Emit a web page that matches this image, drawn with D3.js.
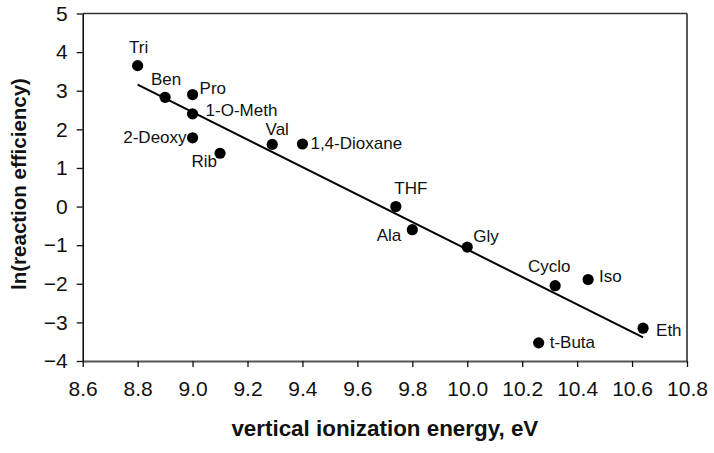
<!DOCTYPE html>
<html>
<head>
<meta charset="utf-8">
<script src="https://cdn.jsdelivr.net/npm/d3@7"></script>
<style>
  html, body { margin: 0; padding: 0; background: #fff; }
  svg { display: block; font-family: "Liberation Sans", Arial, Helvetica, sans-serif; }
</style>
</head>
<body>
<svg id="chart" width="714" height="453"></svg>
<script>
// ---- data ----
const compounds = ["Tri", "Ben", "Pro", "1-O-Meth", "2-Deoxy", "Rib", "Val", "1,4-Dioxane",
                   "THF", "Ala", "Gly", "Cyclo", "Iso", "Eth", "t-Buta"];
const ionizationEnergy = [8.80, 8.90, 9.00, 9.00, 9.00, 9.10, 9.29, 9.40,
                          9.74, 9.80, 10.00, 10.32, 10.44, 10.64, 10.26];
const lnEfficiency = [3.65, 2.83, 2.90, 2.40, 1.78, 1.38, 1.61, 1.62,
                      0.00, -0.60, -1.05, -2.05, -1.89, -3.15, -3.53];
const fitX = [8.80, 10.64];
const fitY = [3.16, -3.39];
const xTickValues = [8.6, 8.8, 9.0, 9.2, 9.4, 9.6, 9.8, 10.0, 10.2, 10.4, 10.6, 10.8];
const yTickValues = [-4, -3, -2, -1, 0, 1, 2, 3, 4, 5];
const xTitle = "vertical ionization energy, eV";
const yTitle = "ln(reaction efficiency)";

// ---- label layout (pixel offsets from each point) ----
const labelLayout = {
  "Tri":         {dx: 1,   dy: -13, anchor: "middle"},
  "Ben":         {dx: 1,   dy: -12, anchor: "middle"},
  "Pro":         {dx: 7,   dy: -1,  anchor: "start"},
  "1-O-Meth":    {dx: 13,  dy: 2,   anchor: "start"},
  "2-Deoxy":     {dx: -6,  dy: 5,   anchor: "end"},
  "Rib":         {dx: -3,  dy: 14,  anchor: "end"},
  "Val":         {dx: 5,   dy: -9.5, anchor: "middle"},
  "1,4-Dioxane": {dx: 8,   dy: 5,   anchor: "start"},
  "THF":         {dx: 15,  dy: -13, anchor: "middle"},
  "Ala":         {dx: -11, dy: 11,  anchor: "end"},
  "Gly":         {dx: 6,   dy: -5,  anchor: "start"},
  "Cyclo":       {dx: -6,  dy: -14, anchor: "middle"},
  "Iso":         {dx: 11,  dy: 2,   anchor: "start"},
  "Eth":         {dx: 13,  dy: 8,   anchor: "start"},
  "t-Buta":      {dx: 11,  dy: 5,   anchor: "start"}
};

const svg = d3.select("#chart");
const m = {left: 82.7, right: 687, top: 13.5, bottom: 361};

const x = d3.scaleLinear().domain([8.6, 10.8]).range([m.left, m.right]);
const y = d3.scaleLinear().domain([-4, 5]).range([m.bottom, m.top]);

// frame top/right
svg.append("line").attr("x1", m.left).attr("x2", m.right).attr("y1", m.top).attr("y2", m.top)
  .attr("stroke", "#333").attr("stroke-width", 1.5);
svg.append("line").attr("x1", m.right).attr("x2", m.right).attr("y1", m.top).attr("y2", m.bottom)
  .attr("stroke", "#222").attr("stroke-width", 1.5);

// x axis
const xAxis = d3.axisBottom(x).tickValues(xTickValues).tickFormat(d3.format(".1f"))
  .tickSizeInner(6).tickSizeOuter(0).tickPadding(14);
const gx = svg.append("g").attr("transform", `translate(0,${m.bottom})`).call(xAxis);
gx.select(".domain").attr("stroke", "#555").attr("stroke-width", 2);
gx.selectAll(".tick line").attr("stroke", "#111").attr("stroke-width", 1.3);
gx.selectAll(".tick text").attr("font-size", 21).attr("fill", "#111")
  .attr("font-family", "Liberation Sans, Arial, sans-serif");

// y axis
const yAxis = d3.axisLeft(y).tickValues(yTickValues).tickFormat(d3.format("d"))
  .tickSizeInner(6).tickSizeOuter(0).tickPadding(9);
const gy = svg.append("g").attr("transform", `translate(${m.left},0)`).call(yAxis);
gy.select(".domain").attr("stroke", "#000").attr("stroke-width", 1.5);
gy.selectAll(".tick line").attr("stroke", "#111").attr("stroke-width", 1.3);
gy.selectAll(".tick text").attr("font-size", 21).attr("fill", "#111")
  .attr("font-family", "Liberation Sans, Arial, sans-serif");

// regression line
svg.append("line")
  .attr("x1", x(fitX[0])).attr("y1", y(fitY[0]))
  .attr("x2", x(fitX[1])).attr("y2", y(fitY[1]))
  .attr("stroke", "#000").attr("stroke-width", 2);

// points
const pts = compounds.map((n, i) => ({name: n, xv: ionizationEnergy[i], yv: lnEfficiency[i]}));
svg.append("g").selectAll("circle").data(pts).join("circle")
  .attr("cx", d => x(d.xv)).attr("cy", d => y(d.yv)).attr("r", 5.6).attr("fill", "#000");

// labels
svg.append("g").selectAll("text").data(pts).join("text")
  .attr("x", d => x(d.xv) + labelLayout[d.name].dx)
  .attr("y", d => y(d.yv) + labelLayout[d.name].dy)
  .attr("text-anchor", d => labelLayout[d.name].anchor)
  .attr("font-size", 17).attr("fill", "#111")
  .text(d => d.name);

// axis titles
svg.append("text").attr("x", (m.left + m.right) / 2).attr("y", 436)
  .attr("text-anchor", "middle").attr("font-size", 22.4).attr("font-weight", "bold").attr("fill", "#111")
  .text(xTitle);
svg.append("text").attr("transform", `translate(26,184) rotate(-90)`)
  .attr("text-anchor", "middle").attr("font-size", 20.5).attr("font-weight", "bold").attr("fill", "#111")
  .text(yTitle);
</script>
</body>
</html>
